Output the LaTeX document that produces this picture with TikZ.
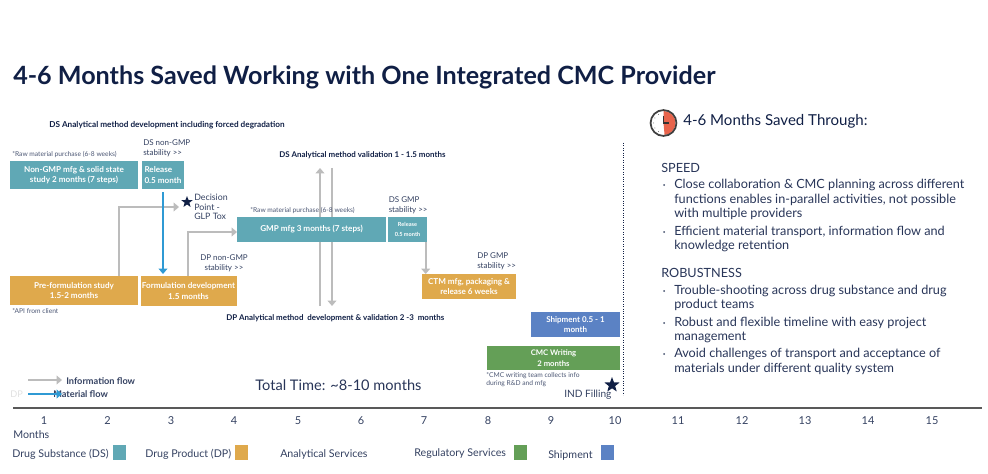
\documentclass[tikz,border=0pt]{standalone}
\usepackage{fontspec}
\setmainfont{Lato}
\usetikzlibrary{arrows.meta,shapes.geometric}

\definecolor{navy}{HTML}{101F45}
\definecolor{dsteal}{HTML}{60A8B5}
\definecolor{dpgold}{HTML}{DFA94C}
\definecolor{shipblue}{HTML}{5B82C4}
\definecolor{reggreen}{HTML}{649F57}
\definecolor{flowgray}{HTML}{BCBCBC}
\definecolor{flowblue}{HTML}{2F9AD4}
\definecolor{clockred}{HTML}{E8644C}

\tikzset{
    px/.style 2 args={minimum width=#1*0.75pt, minimum height=#2*0.75pt, inner sep=0pt, outer sep=0pt},
    taskbox/.style={anchor=north west, align=center, text=white, font=\fontsize{6.1}{7.8}\selectfont\bfseries},
    note/.style={anchor=west, inner sep=0pt, align=left, text=navy!85, font=\fontsize{6}{7.2}\selectfont},
    tiny note/.style={anchor=west, inner sep=0pt, align=left, text=navy!75, font=\fontsize{5}{6}\selectfont},
    headline/.style={anchor=west, inner sep=0pt, text=navy, font=\fontsize{5.95}{8}\selectfont\bfseries},
    bodytext/.style={anchor=west, inner sep=0pt, text=navy!90, font=\fontsize{9.5}{10.9}\selectfont},
    legendtext/.style={anchor=west, inner sep=0pt, text=navy!85, font=\fontsize{8}{9}\selectfont},
    swatch/.style={anchor=north west, px={13}{15}},
    bigstar/.style={star, star points=5, star point ratio=2.4, fill=navy, inner sep=0pt},
    infoflow/.style={draw=flowgray, line width=1.5pt, -{Triangle[length=4pt,width=6.5pt]}},
    materialflow/.style={draw=flowblue, line width=1.3pt, -{Triangle[length=4pt,width=6.5pt]}},
}

\begin{document}
\begin{tikzpicture}[x=0.75pt, y=-0.75pt]
    \useasboundingbox (0,0) rectangle (988,474);

    % Title:
    \node[anchor=west, inner sep=0pt, text=navy, font=\fontsize{18.85}{20}\selectfont\bfseries] (title) at (13,77) {4-6 Months Saved Working with One Integrated CMC Provider};

    % Analytical arrows run behind the GMP box:
    \coordinate (analyticstop) at (320,168);
    \coordinate (analyticsbottom) at (320,306);
    \coordinate (dptop) at (332,168);
    \coordinate (dpbottom) at (332,306);
    \draw[infoflow] (analyticsbottom) -- (analyticstop);
    \draw[infoflow] (dptop) -- (dpbottom);

    % Task boxes:
    \node[taskbox, px={128}{28}, fill=dsteal] (nongmp) at (10,161) {Non-GMP mfg \& solid state\\study 2 months (7 steps)};
    \node[taskbox, px={42}{28}, fill=dsteal, align=left] (release) at (142,161) {Release\\0.5 month};
    \node[taskbox, px={128}{29}, fill=dpgold] (preform) at (10,276) {Pre-formulation study\\1.5-2 months};
    \node[taskbox, px={96}{30}, fill=dpgold] (formdev) at (140.5,276) {Formulation development\\1.5 months};
    \node[taskbox, px={149}{25}, fill=dsteal] (gmp) at (237,217) {GMP mfg 3 months (7 steps)};
    \node[taskbox, px={39}{25}, fill=dsteal, font=\fontsize{4.2}{7.6}\selectfont\bfseries] (releasegmp) at (388,217) {Release\\0.5 month};
    \node[taskbox, px={94}{25}, fill=dpgold] (ctm) at (422,274) {CTM mfg, packaging \&\\release 6 weeks};
    \node[taskbox, px={89}{25}, fill=shipblue, font=\fontsize{6}{8}\selectfont\bfseries] (shipment) at (531,312) {Shipment 0.5 - 1\\month};
    \node[taskbox, px={133}{24}, fill=reggreen, font=\fontsize{5.8}{8}\selectfont\bfseries] (cmc) at (487,346) {CMC Writing\\2 months};

    % Stars and free ends of the flows:
    \node[bigstar, minimum size=9pt] (decision) at (187,202) {};
    \node[bigstar, minimum size=12pt] (ind) at (612,385) {};
    \coordinate (preformout) at (119,276);
    \coordinate (decisionin) at (179,207);
    \coordinate (formdevout) at (187.5,276);
    \coordinate (gmpin) at (237,232);
    \coordinate (ctmin) at (425.7,274);
    \coordinate (releaseout) at (425.7,242);
    \coordinate (materialstart) at (163,192);
    \coordinate (materialend) at (163,274);

    % Flows:
    \draw[infoflow] (preformout) |- (decisionin);
    \draw[infoflow] (formdevout) |- (gmpin);
    \draw[materialflow] (materialstart) -- (materialend);
    \draw[infoflow] (releaseout) -- (ctmin);

    % Labels:
    \node[headline, font=\fontsize{6.15}{8}\selectfont\bfseries] (dsdev) at (49,125) {DS Analytical method development including forced degradation};
    \node[headline] (dsval) at (279,155) {DS Analytical method validation 1 - 1.5 months};
    \node[headline] (dpdev) at (226,318) {DP Analytical method\ \ development \& validation 2 -3\ \ months};
    \node[tiny note] (rawone) at (12,154) {*Raw material purchase (6-8 weeks)};
    \node[tiny note] (rawtwo) at (250,210) {*Raw material purchase (6-8 weeks)};
    \node[tiny note] (apinote) at (12,311) {*API from client};
    \node[tiny note] (cmcnote) at (486,380) {*CMC writing team collects info\\during R\&D and mfg};
    \node[note] (dsnongmp) at (143,148) {DS non-GMP\\stability >{}>};
    \node[note, align=center] (dpnongmp) at (200,263) {DP non-GMP\\stability >{}>};
    \node[note] (dsgmp) at (388.5,205) {DS GMP\\stability >{}>};
    \node[note] (dpgmp) at (477,261) {DP GMP\\stability >{}>};
    \node[note, font=\fontsize{6.6}{7.2}\selectfont] (decisiontext) at (194,207) {Decision\\Point -\\GLP Tox};
    \node[legendtext, font=\fontsize{7.6}{9}\selectfont] (indtext) at (564,395) {IND Filling};
    \node[anchor=west, inner sep=0pt, text=navy!90, font=\fontsize{10.95}{12}\selectfont] (total) at (255,385) {Total Time: \textasciitilde8-10 months};

    % Dotted divider:
    \coordinate (dividertop) at (623.5,143);
    \coordinate (dividerbottom) at (623.5,395);
    \draw[navy, line width=0.8pt, densely dotted] (dividertop) -- (dividerbottom);

    % Flow legend:
    \node[legendtext, font=\fontsize{6.9}{8}\selectfont\bfseries] (infolabel) at (66,381) {Information flow};
    \node[anchor=west, inner sep=0pt, text=black!12, font=\fontsize{6.9}{8}\selectfont] (fadeddp) at (10,394) {DP};
    \coordinate (infostart) at (28,380);
    \coordinate (infoend) at (62,380);
    \coordinate (materialkeystart) at (28,394);
    \coordinate (materialkeyend) at (62,394);
    \node[legendtext, font=\fontsize{6.9}{8}\selectfont\bfseries] (materiallabel) at (53,394) {Material flow};
    \draw[infoflow, line width=1pt] (infostart) -- (infoend);
    \draw[materialflow] (materialkeystart) -- (materialkeyend);

    % Month axis:
    \coordinate (axisstart) at (13,408);
    \coordinate (axisend) at (982,408);
    \draw[black!65, line width=0.8pt] (axisstart) -- (axisend);
    \foreach \month/\xpos in {1/44,2/107.5,3/171,4/234,5/298,6/361,7/424,8/488,9/551,10/615,11/678,12/742,13/805,14/868,15/932}
        \node[text=navy!85, font=\fontsize{8.2}{9}\selectfont] (month\month) at (\xpos,421) {\month};
    \node[legendtext] (monthslabel) at (13,435) {Months};

    % Colour legend:
    \node[legendtext] (dskey) at (12,454) {Drug Substance (DS)};
    \node[swatch, fill=dsteal] (dsswatch) at (113,445) {};
    \node[legendtext] (dpkey) at (145,454) {Drug Product (DP)};
    \node[swatch, fill=dpgold] (dpswatch) at (234.5,445) {};
    \node[legendtext] (askey) at (280,454) {Analytical Services};
    \node[legendtext] (rskey) at (414,454) {Regulatory Services};
    \node[swatch, fill=reggreen] (rsswatch) at (514,445) {};
    \node[legendtext] (shipkey) at (548,455) {Shipment};
    \node[swatch, fill=shipblue] (shipswatch) at (601,445) {};

    % Clock icon:
    \coordinate (clockcentre) at (663.5,123);
    \fill[clockred] (clockcentre) -- ++(0,-12) arc (90:-85:9pt) -- cycle;
    \foreach \angle in {120,150,180,210,240}
        \fill[black!60] (clockcentre) ++(\angle:10) circle (0.5);
    \draw[black!75, line width=1.3pt] (clockcentre) circle (9.7pt);
    \draw[black!80, line width=0.9pt] (663.5,116) -- (clockcentre) -- (669,123);

    % Right column:
    \node[anchor=west, inner sep=0pt, text=navy, font=\fontsize{11.3}{13}\selectfont] (savedhead) at (683,121) {4-6 Months Saved Through:};
    \node[bodytext] (speed) at (661,168) {SPEED};
    \node[bodytext] (robust) at (661,273) {ROBUSTNESS};
    \foreach \ypos in {185,232,291,323,354}
        \fill[navy!80] (664,\ypos) circle (1);
    \node[bodytext, align=left] (speedone) at (674,199.5) {Close collaboration \& CMC planning across different\\functions enables in-parallel activities, not possible\\with multiple providers};
    \node[bodytext, align=left] (speedtwo) at (674,239) {Efficient material transport, information flow and\\knowledge retention};
    \node[bodytext, align=left] (robustone) at (674,298) {Trouble-shooting across drug substance and drug\\product teams};
    \node[bodytext, align=left] (robusttwo) at (674,330) {Robust and flexible timeline with easy project\\management};
    \node[bodytext, align=left] (robustthree) at (674,361.5) {Avoid challenges of transport and acceptance of\\materials under different quality system};
\end{tikzpicture}
\end{document}
